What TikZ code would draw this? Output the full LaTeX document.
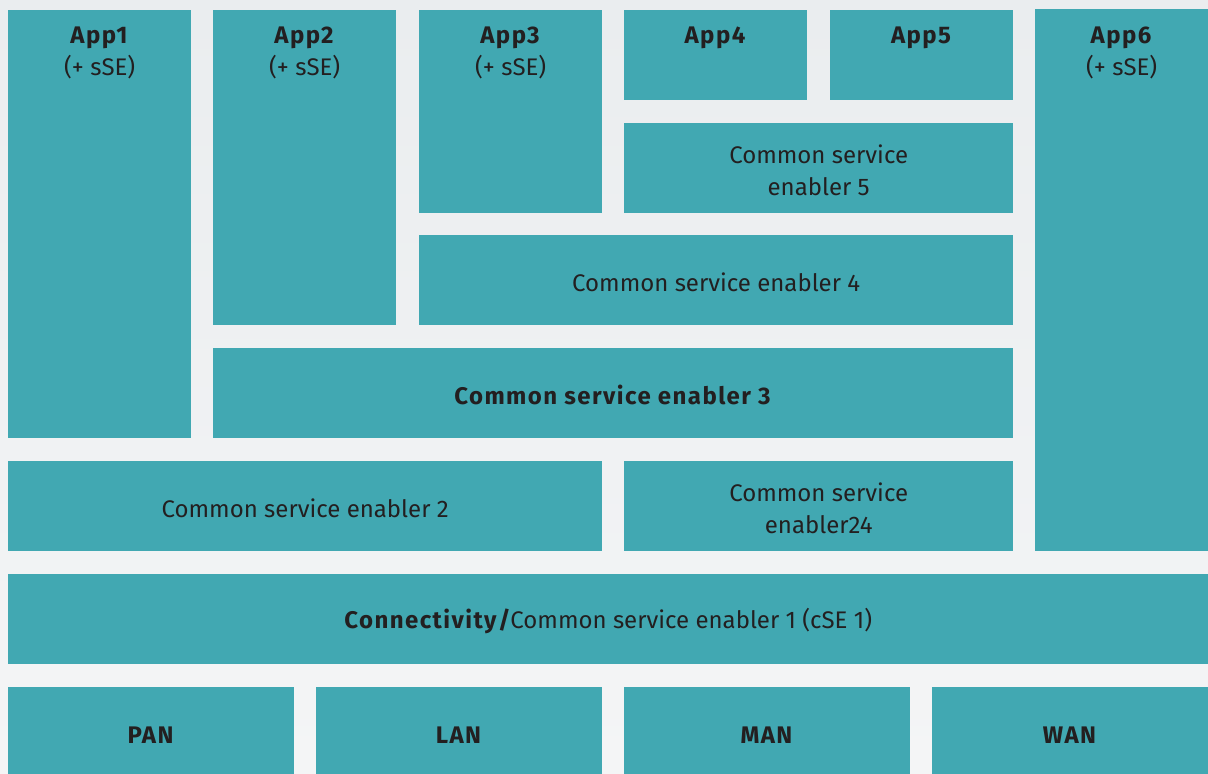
\documentclass[tikz,border=0pt]{standalone}
\usepackage{fontspec}
\setmainfont{Fira Sans}[BoldFeatures={LetterSpace=6}]
\usepackage{tikz}
\usetikzlibrary{positioning}
\definecolor{teal}{HTML}{41A8B2}
\definecolor{bgtop}{HTML}{EAEDEF}
\definecolor{bgbot}{HTML}{F4F5F6}
\definecolor{ink}{HTML}{231F20}
\tikzset{
  blk/.style={fill=teal,draw=none,inner sep=0pt,anchor=north west},
  sz/.style 2 args={minimum width=#1pt,minimum height=#2pt},
  txt/.style={text=ink,align=center,inner sep=0pt,font=\fontsize{24}{32}\selectfont}
}
\begin{document}
\begin{tikzpicture}[x=1pt,y=-1pt]
\shade[top color=bgtop,bottom color=bgbot](0,0)rectangle(1208,774);
\useasboundingbox(0,0)rectangle(1208,774);
%apps
\node[blk,sz={183}{428}](app1)at(8,10){};
\node[blk,sz={183}{315}](app2)at(213,10){};
\node[blk,sz={183}{203}](app3)at(419,10){};
\node[blk,sz={183}{90}](app4)at(624,10){};
\node[blk,sz={183}{90}](app5)at(830,10){};
\node[blk,sz={173}{542}](app6)at(1035,9){};
\node[txt,below=17pt of app1.north](app1t){\textbf{App1}\\(+ sSE)};
\node[txt,below=17pt of app2.north](app2t){\textbf{App2}\\(+ sSE)};
\node[txt,below=17pt of app3.north](app3t){\textbf{App3}\\(+ sSE)};
\node[txt,below=17pt of app4.north](app4t){\textbf{App4}};
\node[txt,below=17pt of app5.north](app5t){\textbf{App5}};
\node[txt,below=18pt of app6.north](app6t){\textbf{App6}\\(+ sSE)};
%common service enablers
\node[blk,sz={389}{90}](cse5)at(624,123){};
\node[blk,sz={594}{90}](cse4)at(419,235){};
\node[blk,sz={800}{90}](cse3)at(213,348){};
\node[blk,sz={594}{90}](cse2)at(8,461){};
\node[blk,sz={389}{90}](cse24)at(624,461){};
\node[blk,sz={1200}{90}](conn)at(8,574){};
\node[txt](cse5t)at([yshift=-2pt]cse5.center){Common service\\enabler 5};
\node[txt](cse4t)at([yshift=-2pt]cse4.center){Common service enabler 4};
\node[txt](cse3t)at([yshift=-2pt]cse3.center){\textbf{Common service enabler 3}};
\node[txt](cse2t)at([yshift=-2pt]cse2.center){Common service enabler 2};
\node[txt](cse24t)at([yshift=-2pt]cse24.center){Common service\\enabler24};
\node[txt](connt)at([yshift=-2pt]conn.center){\textbf{Connectivity/}\kern-1.5pt Common service enabler 1 (cSE 1)};
%networks
\foreach \n/\x/\w in {pan/8/286,lan/316/286,man/624/286,wan/932/276}{
\node[blk,sz={\w}{87}](\n)at(\x,687){};
}
\node[txt](pant)at([yshift=-4pt]pan.center){\textbf{PAN}};
\node[txt](lant)at([yshift=-4pt]lan.center){\textbf{LAN}};
\node[txt](mant)at([yshift=-4pt]man.center){\textbf{MAN}};
\node[txt](want)at([yshift=-4pt]wan.center){\textbf{WAN}};
\end{tikzpicture}
\end{document}
